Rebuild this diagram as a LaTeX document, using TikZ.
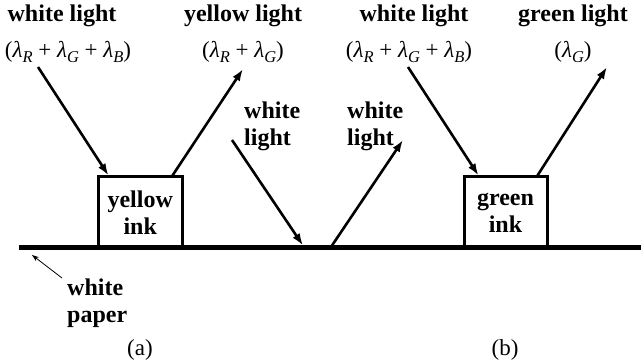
\documentclass[tikz,border=0pt]{standalone}
\usepackage{fontspec}
\setmainfont{Liberation Serif}
\usetikzlibrary{arrows.meta}

% lambda with an italic subscript
\newcommand{\lam}[1]{\textit{λ}\raisebox{-5pt}{\fontsize{16.5}{16.5}\selectfont\itshape #1}}

\begin{document}
\begin{tikzpicture}[x=1pt,y=1pt,
    lbl/.style={font=\fontsize{24}{27}\selectfont\bfseries, inner sep=0pt},
    formula/.style={font=\fontsize{23}{26}\selectfont, inner sep=0pt},
    inkbox/.style={draw, line width=3pt, minimum height=71pt, align=center, inner sep=0pt,
        font=\fontsize{24}{27}\selectfont\bfseries},
    ray/.style={line width=2.6pt, -{Latex[length=12pt,width=8.5pt]}}]
    \useasboundingbox (0,0) rectangle (641,364);

    % the paper
    \draw[line width=5pt] (19,116) -- (641,116);

    % ink on the paper
    \node[inkbox, minimum width=83.5pt] (yink) at (140.25,151.5) {yellow\\ink};
    \node[inkbox, minimum width=83pt] (gink) at (505.5,151.5) {green\\ink};

    % free ends of the rays
    \coordinate (wa) at (38,297);
    \coordinate (ya) at (243,295);
    \coordinate (wm) at (232,224);
    \coordinate (hit1) at (303,118.5);
    \coordinate (hit2) at (332,118.5);
    \coordinate (wn) at (403,224);
    \coordinate (wb) at (408,297);
    \coordinate (gb) at (607,297);

    \draw[ray] (wa) -- ([xshift=11.5pt]yink.north west);
    \draw[ray] ([xshift=-11pt]yink.north east) -- (ya);
    \draw[ray] (wm) -- (hit1);
    \draw[ray] (hit2) -- (wn);
    \draw[ray] (wb) -- ([xshift=16pt]gink.north west);
    \draw[ray] ([xshift=-11pt]gink.north east) -- (gb);

    % labels at the top
    \node[lbl, anchor=base] (t1) at (62,342) {white light};
    \node[lbl, anchor=base] (t2) at (243,342) {yellow light};
    \node[lbl, anchor=base] (t3) at (414,342) {white light};
    \node[lbl, anchor=base] (t4) at (573,342) {green light};
    \node[formula, anchor=base] (f1) at (68,306) {(\lam{R} + \lam{G} + \lam{B})};
    \node[formula, anchor=base] (f2) at (243,306) {(\lam{R} + \lam{G})};
    \node[formula, anchor=base] (f3) at (409,306) {(\lam{R} + \lam{G} + \lam{B})};
    \node[formula, anchor=base] (f4) at (573,306) {(\lam{G})};

    \node[lbl, align=left, anchor=north west] (m1) at (244,262.5) {white\\light};
    \node[lbl, align=left, anchor=north west] (m2) at (347,262.5) {white\\light};

    % the paper's label
    \node[lbl, align=left, anchor=north west] (wp) at (67,85) {white\\paper};
    \coordinate (pstart) at (62,86);
    \coordinate (pend) at (32,109);
    \draw[line width=0.8pt, -{Stealth[length=7pt,width=5pt]}] (pstart) -- (pend);

    \node[formula, anchor=base] (ca) at (140,8) {(a)};
    \node[formula, anchor=base] (cb) at (505,8) {(b)};
\end{tikzpicture}
\end{document}
